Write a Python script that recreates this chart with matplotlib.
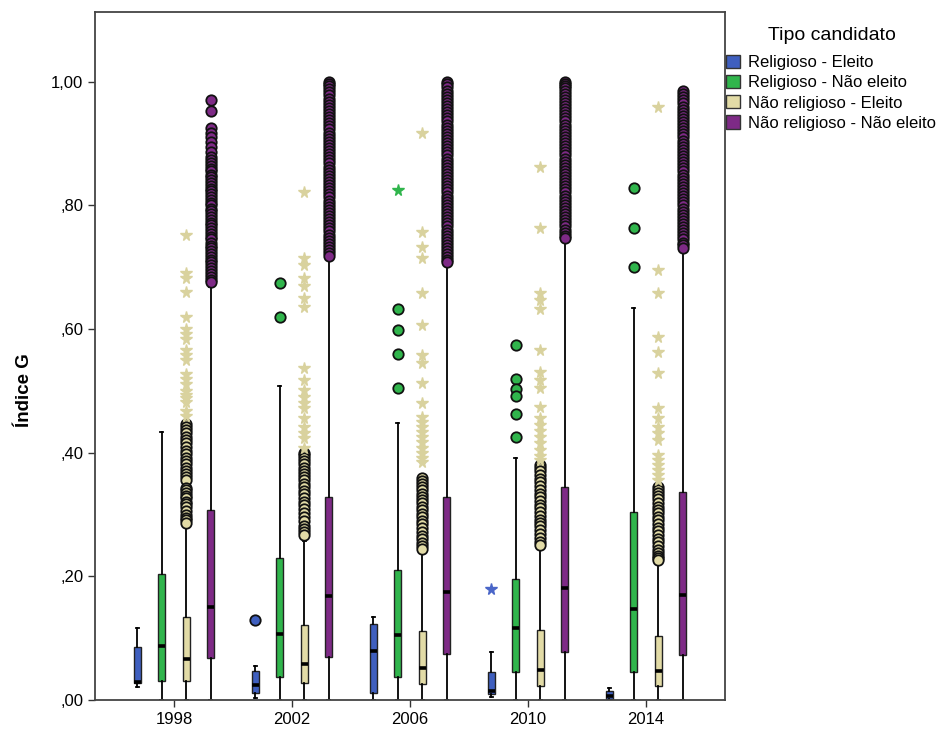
import numpy as np
import matplotlib.pyplot as plt
from matplotlib.patches import Patch

plt.rcParams['font.family'] = ['Liberation Sans', 'DejaVu Sans']

# Data
years = ["1998", "2002", "2006", "2010", "2014"]
groups = ["Religioso - Eleito", "Religioso - Não eleito",
          "Não religioso - Eleito", "Não religioso - Não eleito"]
colors = ["#3f5fbf", "#30b54c", "#e2dba6", "#7e2a86"]
star_colors = ["#4a66c8", "#30b54c", "#d9d29e", "#7e2a86"]

# [whislo, q1, med, q3, whishi] per year, per group
rel_eleito = [[0.021, 0.027, 0.029, 0.086, 0.116],
              [0.003, 0.011, 0.024, 0.047, 0.055],
              [0.000, 0.012, 0.080, 0.123, 0.135],
              [0.005, 0.010, 0.015, 0.045, 0.077],
              [0.000, 0.002, 0.006, 0.014, 0.019]]
rel_nao_eleito = [[0.0, 0.031, 0.087, 0.204, 0.434],
                  [0.0, 0.037, 0.107, 0.230, 0.508],
                  [0.0, 0.038, 0.105, 0.210, 0.448],
                  [0.0, 0.045, 0.116, 0.195, 0.392],
                  [0.0, 0.046, 0.147, 0.304, 0.634]]
nrel_eleito = [[0.0, 0.031, 0.066, 0.135, 0.284],
               [0.0, 0.027, 0.058, 0.121, 0.258],
               [0.0, 0.026, 0.052, 0.112, 0.240],
               [0.0, 0.023, 0.048, 0.113, 0.248],
               [0.0, 0.023, 0.047, 0.104, 0.222]]
nrel_nao_eleito = [[0.0, 0.068, 0.150, 0.307, 0.668],
                   [0.0, 0.070, 0.168, 0.328, 0.712],
                   [0.0, 0.074, 0.175, 0.328, 0.703],
                   [0.0, 0.078, 0.181, 0.345, 0.742],
                   [0.0, 0.072, 0.170, 0.336, 0.727]]

# circle outliers
out_rel_eleito = [[], [0.130], [], [], []]
out_rel_nao_eleito = [[], [0.675, 0.620], [0.633, 0.599, 0.560, 0.505],
                      [0.575, 0.520, 0.503, 0.492, 0.463, 0.426],
                      [0.828, 0.764, 0.701]]
out_nrel_eleito = [
    [0.447, 0.442, 0.437, 0.432, 0.426, 0.420, 0.415, 0.409, 0.403, 0.398, 0.392,
     0.386, 0.381, 0.375, 0.370, 0.365, 0.361, 0.356, 0.343, 0.339, 0.335, 0.330,
     0.326, 0.321, 0.317, 0.312, 0.306, 0.300, 0.295, 0.291, 0.287],
    [0.400, 0.396, 0.391, 0.386, 0.381, 0.376, 0.371, 0.366, 0.361, 0.356, 0.350,
     0.344, 0.338, 0.333, 0.327, 0.321, 0.315, 0.309, 0.302, 0.296, 0.289, 0.282,
     0.276, 0.271, 0.267],
    [0.359, 0.354, 0.349, 0.344, 0.339, 0.334, 0.329, 0.324, 0.319, 0.313, 0.307,
     0.301, 0.296, 0.290, 0.284, 0.278, 0.272, 0.266, 0.260, 0.254, 0.249, 0.244],
    [0.380, 0.375, 0.370, 0.364, 0.358, 0.352, 0.346, 0.340, 0.334, 0.328, 0.322,
     0.316, 0.310, 0.304, 0.298, 0.292, 0.287, 0.281, 0.275, 0.268, 0.262, 0.256,
     0.251],
    [0.345, 0.340, 0.335, 0.330, 0.325, 0.319, 0.313, 0.308, 0.302, 0.296, 0.291,
     0.285, 0.279, 0.273, 0.267, 0.261, 0.255, 0.249, 0.243, 0.238, 0.233, 0.229,
     0.227]]
out_nrel_nao_eleito = [
    [0.970, 0.953, 0.926, 0.918, 0.910, 0.902, 0.895, 0.887, 0.878, 0.873, 0.868,
     0.864, 0.859, 0.855, 0.850, 0.846, 0.841, 0.836, 0.832, 0.827, 0.823, 0.818,
     0.813, 0.809, 0.804, 0.800, 0.795, 0.791, 0.786, 0.781, 0.777, 0.772, 0.768,
     0.763, 0.758, 0.754, 0.749, 0.745, 0.740, 0.735, 0.731, 0.726, 0.722, 0.717,
     0.712, 0.708, 0.703, 0.699, 0.694, 0.689, 0.685, 0.680, 0.676],
    [1.000, 0.997, 0.993, 0.988, 0.983, 0.978, 0.973, 0.968, 0.963, 0.958, 0.953,
     0.948, 0.943, 0.938, 0.933, 0.928, 0.923, 0.918, 0.913, 0.908, 0.903, 0.898,
     0.893, 0.888, 0.883, 0.878, 0.873, 0.868, 0.863, 0.858, 0.853, 0.848, 0.843,
     0.838, 0.833, 0.828, 0.823, 0.818, 0.813, 0.808, 0.803, 0.798, 0.793, 0.788,
     0.783, 0.778, 0.773, 0.768, 0.763, 0.758, 0.753, 0.748, 0.743, 0.738, 0.733,
     0.728, 0.723, 0.719],
    [1.000, 0.996, 0.991, 0.986, 0.981, 0.976, 0.971, 0.966, 0.961, 0.956, 0.951,
     0.946, 0.941, 0.936, 0.931, 0.926, 0.921, 0.916, 0.911, 0.906, 0.901, 0.896,
     0.891, 0.886, 0.881, 0.876, 0.871, 0.866, 0.861, 0.856, 0.851, 0.846, 0.841,
     0.836, 0.831, 0.826, 0.821, 0.816, 0.811, 0.806, 0.801, 0.796, 0.791, 0.786,
     0.781, 0.776, 0.771, 0.766, 0.761, 0.756, 0.751, 0.746, 0.741, 0.736, 0.731,
     0.726, 0.721, 0.716, 0.712, 0.708],
    [1.000, 0.997, 0.994, 0.990, 0.986, 0.981, 0.976, 0.971, 0.966, 0.961, 0.956,
     0.951, 0.946, 0.941, 0.936, 0.931, 0.926, 0.921, 0.916, 0.911, 0.906, 0.901,
     0.896, 0.891, 0.886, 0.881, 0.876, 0.871, 0.866, 0.861, 0.856, 0.851, 0.846,
     0.841, 0.836, 0.831, 0.826, 0.821, 0.816, 0.811, 0.806, 0.801, 0.796, 0.791,
     0.786, 0.781, 0.776, 0.771, 0.766, 0.761, 0.756, 0.751, 0.747],
    [0.985, 0.980, 0.975, 0.970, 0.965, 0.960, 0.955, 0.950, 0.945, 0.940, 0.935,
     0.930, 0.925, 0.920, 0.915, 0.910, 0.905, 0.900, 0.895, 0.890, 0.885, 0.880,
     0.875, 0.870, 0.865, 0.860, 0.855, 0.850, 0.845, 0.840, 0.835, 0.830, 0.825,
     0.820, 0.815, 0.810, 0.805, 0.800, 0.795, 0.790, 0.785, 0.780, 0.775, 0.770,
     0.765, 0.760, 0.755, 0.750, 0.745, 0.740, 0.736, 0.732]]

# extreme outliers (stars)
ext_rel_eleito = [[], [], [], [0.180], []]
ext_rel_nao_eleito = [[], [], [0.825], [], []]
ext_nrel_eleito = [
    [0.752, 0.691, 0.683, 0.660, 0.620, 0.600, 0.592, 0.584, 0.566, 0.558, 0.550,
     0.527, 0.519, 0.511, 0.500, 0.494, 0.488, 0.482, 0.467, 0.459],
    [0.822, 0.715, 0.704, 0.683, 0.669, 0.651, 0.636, 0.537, 0.518, 0.502, 0.490,
     0.481, 0.472, 0.456, 0.442, 0.432, 0.424, 0.408],
    [0.918, 0.757, 0.733, 0.715, 0.658, 0.607, 0.558, 0.545, 0.513, 0.480, 0.458,
     0.450, 0.442, 0.433, 0.425, 0.417, 0.408, 0.400, 0.392, 0.385],
    [0.863, 0.764, 0.658, 0.647, 0.633, 0.566, 0.531, 0.518, 0.505, 0.474, 0.456,
     0.445, 0.435, 0.425, 0.415, 0.405, 0.395, 0.388],
    [0.960, 0.696, 0.659, 0.588, 0.563, 0.529, 0.472, 0.456, 0.442, 0.432, 0.421,
     0.396, 0.388, 0.380, 0.372, 0.364, 0.356]]
ext_nrel_nao_eleito = [[], [], [], [], []]

box_data = [rel_eleito, rel_nao_eleito, nrel_eleito, nrel_nao_eleito]
out_data = [out_rel_eleito, out_rel_nao_eleito, out_nrel_eleito, out_nrel_nao_eleito]
ext_data = [ext_rel_eleito, ext_rel_nao_eleito, ext_nrel_eleito, ext_nrel_nao_eleito]

fig = plt.figure(figsize=(9.38, 7.29), dpi=100)
ax = fig.add_axes([95 / 938, 1 - 700 / 729, 630 / 938, 688 / 729])

offsets = [-0.312, -0.104, 0.104, 0.312]
for g in range(4):
    stats = []
    pos = []
    for i in range(len(years)):
        lo, q1, med, q3, hi = box_data[g][i]
        stats.append(dict(whislo=lo, q1=q1, med=med, q3=q3, whishi=hi,
                          fliers=out_data[g][i]))
        pos.append(i + offsets[g])
    ax.bxp(stats, positions=pos, widths=0.06, capwidths=0.025,
           patch_artist=True, showfliers=True,
           boxprops=dict(facecolor=colors[g], edgecolor="#222222", linewidth=1.0),
           medianprops=dict(color="black", linewidth=2.6),
           whiskerprops=dict(color="black", linewidth=1.3),
           capprops=dict(color="black", linewidth=1.3),
           flierprops=dict(marker="o", markersize=7.5, markerfacecolor=colors[g],
                           markeredgecolor="#111111", markeredgewidth=1.3,
                           linestyle="none"))
    for i in range(len(years)):
        ext = ext_data[g][i]
        if ext:
            ax.plot([i + offsets[g]] * len(ext), ext, linestyle="none", marker="*",
                    markersize=8.5, color=star_colors[g])

ax.set_xlim(-0.67, 4.67)
ax.set_ylim(0, 1.113)
ax.set_xticks(range(len(years)))
ax.set_xticklabels(years, fontsize=12)
ax.set_yticks([0, 0.2, 0.4, 0.6, 0.8, 1.0])
ax.set_yticklabels([",00", ",20", ",40", ",60", ",80", "1,00"], fontsize=12)
ax.tick_params(axis="both", direction="out", length=5, width=1, color="#333333")
for s in ax.spines.values():
    s.set_color("#444444")
    s.set_linewidth(1.3)
ax.set_ylabel("Índice G", fontsize=13.5, fontweight="bold")
ax.yaxis.set_label_coords(-0.098, 0.45)

# legend
fig.text(832 / 938, 1 - 35 / 729, "Tipo candidato", ha="center", va="center", fontsize=14)
handles = [Patch(facecolor=c, edgecolor="#333333", linewidth=1) for c in colors]
fig.legend(handles, groups, loc="upper left", bbox_to_anchor=(726 / 938, 1 - 55 / 729),
           frameon=False, fontsize=12, handlelength=0.85, handleheight=0.85,
           handletextpad=0.45, labelspacing=0.28, borderpad=0, borderaxespad=0)

fig.savefig("out.png", dpi=100)
